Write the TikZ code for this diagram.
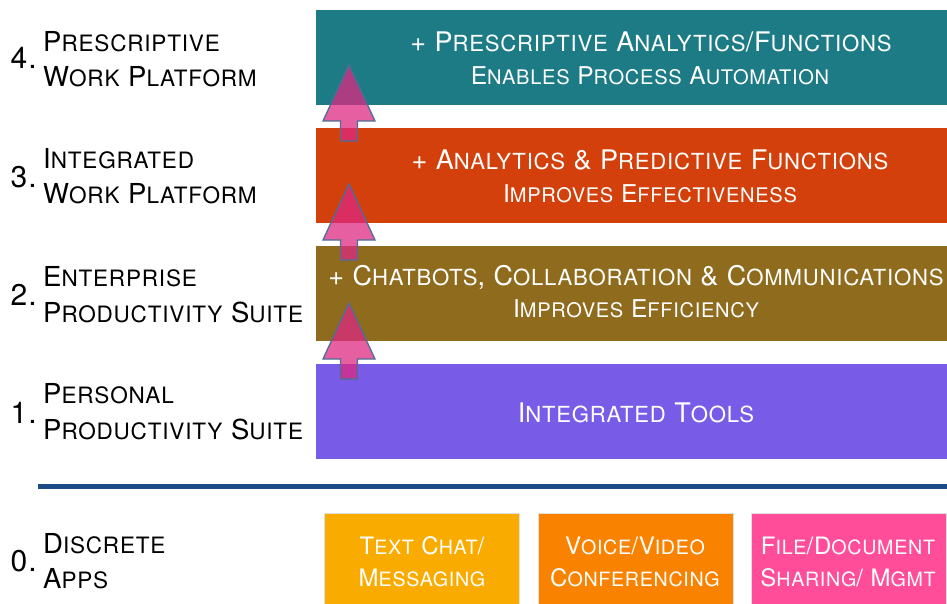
\documentclass[tikz,border=0pt]{standalone}
\usepackage{fontspec}
\setmainfont{TeX Gyre Heros}[LetterSpace=3.5]
% scaled copy of the face, used for the small-capital letters
\newfontfamily\scfont{TeX Gyre Heros}[Scale=0.82, LetterSpace=3.5]
\newcommand\lc[1]{{\scfont #1}}
\newcommand\fsz[1]{\fontsize{#1}{#1}\selectfont}

\definecolor{tealtier}{RGB}{29,123,134}
\definecolor{redtier}{RGB}{211,64,11}
\definecolor{browntier}{RGB}{143,107,30}
\definecolor{purpletier}{RGB}{120,92,232}
\definecolor{divider}{RGB}{27,75,135}
\definecolor{appyellow}{RGB}{249,171,0}
\definecolor{apporange}{RGB}{249,130,0}
\definecolor{apppink}{RGB}{255,77,154}
\definecolor{upfill}{RGB}{221,41,128}
\definecolor{upline}{RGB}{79,110,149}

\tikzset{
  tier/.style={fill=#1, draw=none, anchor=north west, inner sep=0,
    minimum width=660, minimum height=95},
  appbox/.style={fill=#1, draw=black!12, line width=0.6, anchor=north west,
    inner sep=0, minimum width=195, minimum height=100},
  headline/.style={text=white, anchor=base, inner sep=0, font=\fsz{27}},
  subline/.style={text=white, anchor=base, inner sep=0, font=\fsz{24.5}},
  apptext/.style={text=white, anchor=base, inner sep=0, font=\fsz{24}},
  levelname/.style={text=black, anchor=base west, inner sep=0, font=\fsz{27.5}},
  levelnum/.style={text=black, anchor=base east, inner sep=0, font=\fsz{30}},
  pics/uparrow/.style={code={
    \draw[fill=upfill, fill opacity=0.75, draw=upline, line width=1.3,
          line join=miter]
      (0,0) -- (26,56) -- (8.5,56) -- (8.5,76) -- (-8.5,76)
      -- (-8.5,56) -- (-26,56) -- cycle;
  }},
}

\begin{document}
\begin{tikzpicture}[x=1pt, y=-1pt]
  \useasboundingbox (0,0) rectangle (947,604);
  \clip (0,0) rectangle (947,604);

  % tiers of the platform
  \node[tier=tealtier]   (t4) at (316,10)  {};
  \node[tier=redtier]    (t3) at (316,128) {};
  \node[tier=browntier]  (t2) at (316,246) {};
  \node[tier=purpletier] (t1) at (316,364) {};

  \node[headline] (t4a) at (651,52)
    {+ P\lc{RESCRIPTIVE} A\lc{NALYTICS}/F\lc{UNCTIONS}};
  \node[subline]  (t4b) at (650,85)
    {E\lc{NABLES} P\lc{ROCESS} A\lc{UTOMATION}};
  \node[headline] (t3a) at (650,170)
    {+ A\lc{NALYTICS} \& P\lc{REDICTIVE} F\lc{UNCTIONS}};
  \node[subline]  (t3b) at (650,203)
    {I\lc{MPROVES} E\lc{FFECTIVENESS}};
  \node[headline] (t2a) at (636,285)
    {+ C\lc{HATBOTS}, C\lc{OLLABORATION} \& C\lc{OMMUNICATIONS}};
  \node[subline]  (t2b) at (636,317)
    {I\lc{MPROVES} E\lc{FFICIENCY}};
  \node[headline] (t1a) at (636,422)
    {I\lc{NTEGRATED} T\lc{OOLS}};

  % upward arrows between tiers
  \pic at (349,303) {uparrow};
  \pic at (349,184) {uparrow};
  \pic at (349,65)  {uparrow};

  % level names
  \node[levelnum]  (n4)  at (37,69) {4.};
  \node[levelname] (l4a) at (43,52) {P\lc{RESCRIPTIVE}};
  \node[levelname] (l4b) at (43,87) {W\lc{ORK} P\lc{LATFORM}};
  \node[levelnum]  (n3)  at (37,187) {3.};
  \node[levelname] (l3a) at (43,168) {I\lc{NTEGRATED}};
  \node[levelname] (l3b) at (43,204) {W\lc{ORK} P\lc{LATFORM}};
  \node[levelnum]  (n2)  at (37,305) {2.};
  \node[levelname] (l2a) at (43,286) {E\lc{NTERPRISE}};
  \node[levelname] (l2b) at (43,322) {P\lc{RODUCTIVITY} S\lc{UITE}};
  \node[levelnum]  (n1)  at (37,423) {1.};
  \node[levelname] (l1a) at (43,403) {P\lc{ERSONAL}};
  \node[levelname] (l1b) at (43,439) {P\lc{RODUCTIVITY} S\lc{UITE}};
  \node[levelnum]  (n0)  at (37,571) {0.};
  \node[levelname] (l0a) at (43,553) {D\lc{ISCRETE}};
  \node[levelname] (l0b) at (43,588) {A\lc{PPS}};

  % divider
  \coordinate (dl) at (38,486);
  \coordinate (dr) at (950,486);
  \draw[divider, line width=5] (dl) -- (dr);

  % discrete apps
  \node[appbox=appyellow] (a1) at (324,513) {};
  \node[appbox=apporange] (a2) at (538,513) {};
  \node[appbox=apppink]   (a3) at (751,513) {};
  \node[apptext] (a1a) at (422,554) {T\lc{EXT} C\lc{HAT}/};
  \node[apptext] (a1b) at (422,586) {M\lc{ESSAGING}};
  \node[apptext] (a2a) at (635,554) {V\lc{OICE}/V\lc{IDEO}};
  \node[apptext] (a2b) at (635,586) {C\lc{ONFERENCING}};
  \node[apptext] (a3a) at (848,554) {F\lc{ILE}/D\lc{OCUMENT}};
  \node[apptext] (a3b) at (848,586) {S\lc{HARING}/ M\lc{GMT}};
\end{tikzpicture}
\end{document}
